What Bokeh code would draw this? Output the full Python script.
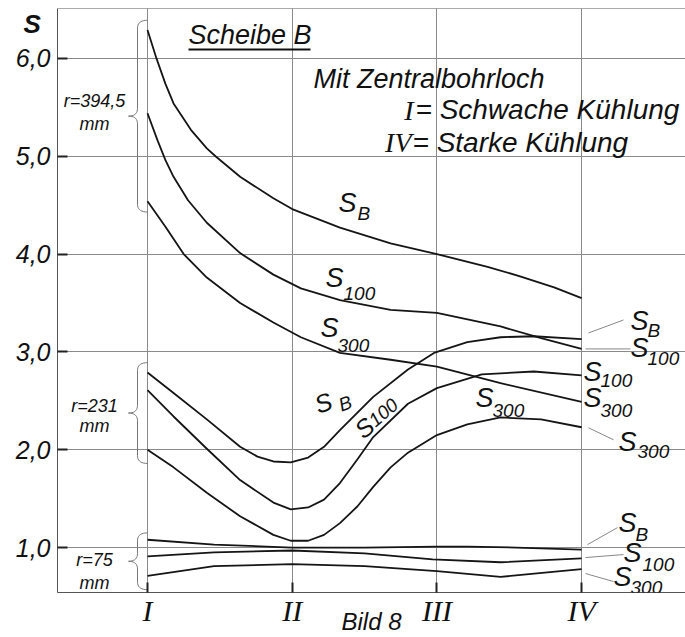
import math
import numpy as np
from bokeh.plotting import figure
from bokeh.models import Range1d, FixedTicker, Label, Span
from bokeh.embed import file_html
from bokeh.resources import INLINE

# ---- data -----------------------------------------------------------
stufen_pos = [1, 2, 3, 4]
stufen_lbl = ["I", "II", "III", "IV"]
s_ticks = [1, 2, 3, 4, 5, 6]
s_tick_lbl = ["1,0", "2,0", "3,0", "4,0", "5,0", "6,0"]
y_title = "S"
x_caption = "Bild 8"

# r = 394,5 mm
x_b_394 = [1.0, 1.062, 1.124, 1.18, 1.30, 1.41, 1.47, 1.64, 1.87, 2.0, 2.33, 2.68, 3.0, 3.35, 3.58, 3.81, 4.0]
s_b_394 = [6.29, 6.00, 5.74, 5.54, 5.27, 5.08, 5.00, 4.79, 4.57, 4.46, 4.27, 4.11, 4.00, 3.87, 3.77, 3.66, 3.55]
x_100_394 = [1.0, 1.07, 1.124, 1.18, 1.28, 1.41, 1.64, 1.87, 2.06, 2.33, 2.68, 3.0, 3.44, 3.72, 4.0]
s_100_394 = [5.44, 5.16, 4.96, 4.79, 4.55, 4.32, 4.01, 3.79, 3.65, 3.53, 3.43, 3.40, 3.26, 3.14, 3.03]
x_300_394 = [1.0, 1.124, 1.25, 1.41, 1.64, 1.87, 2.06, 2.33, 2.68, 3.0, 3.44, 4.0]
s_300_394 = [4.54, 4.28, 4.00, 3.76, 3.50, 3.30, 3.15, 2.99, 2.92, 2.85, 2.68, 2.49]

# r = 231 mm
x_b_231 = [1.0, 1.18, 1.41, 1.64, 1.76, 1.87, 1.99, 2.11, 2.22, 2.33, 2.56, 2.8, 2.98, 3.21, 3.44, 3.67, 4.0]
s_b_231 = [2.79, 2.58, 2.31, 2.03, 1.93, 1.88, 1.87, 1.92, 2.03, 2.20, 2.54, 2.82, 2.99, 3.10, 3.15, 3.16, 3.13]
x_100_231 = [1.0, 1.18, 1.41, 1.64, 1.87, 1.99, 2.11, 2.22, 2.33, 2.45, 2.56, 2.8, 3.0, 3.31, 3.67, 4.0]
s_100_231 = [2.61, 2.34, 2.01, 1.69, 1.46, 1.39, 1.41, 1.49, 1.66, 1.90, 2.13, 2.47, 2.63, 2.77, 2.80, 2.76]
x_300_231 = [1.0, 1.18, 1.41, 1.64, 1.87, 1.99, 2.11, 2.22, 2.33, 2.45, 2.56, 2.68, 2.8, 3.0, 3.21, 3.44, 3.72, 4.0]
s_300_231 = [2.00, 1.82, 1.56, 1.32, 1.13, 1.07, 1.07, 1.13, 1.25, 1.42, 1.62, 1.82, 1.97, 2.15, 2.26, 2.33, 2.31, 2.23]

# r = 75 mm
x_b_75 = [1.0, 1.46, 2.0, 2.5, 3.0, 3.21, 3.55, 4.0]
s_b_75 = [1.08, 1.03, 1.00, 1.00, 1.01, 1.01, 1.00, 0.98]
x_100_75 = [1.0, 1.46, 2.0, 2.5, 2.97, 3.44, 4.0]
s_100_75 = [0.91, 0.95, 0.97, 0.94, 0.88, 0.85, 0.89]
x_300_75 = [1.0, 1.46, 2.0, 2.5, 3.0, 3.44, 4.0]
s_300_75 = [0.71, 0.81, 0.83, 0.81, 0.76, 0.70, 0.78]

# brace ranges (S) per radius group
brace_r = [("r=394,5", 6.39, 4.43), ("r=231", 2.89, 1.86), ("r=75", 1.15, 0.57)]

# ---- layout helpers (pixel -> data, for annotation placement) ------
def X(px):
    return 1 + (px - 147) / 144.7

def Y(py):
    return (646 - py) / 98.0

y_top = Y(8)
p = figure(width=685, height=637,
           x_range=Range1d(X(57), X(685)), y_range=Range1d(Y(593), y_top),
           output_backend="svg", toolbar_location=None,
           min_border_left=57, min_border_right=0, min_border_top=8, min_border_bottom=44)
p.outline_line_color = None
p.background_fill_color = "white"
p.border_fill_color = "white"

p.xaxis.ticker = FixedTicker(ticks=stufen_pos)
p.xaxis.major_label_overrides = {k: v for k, v in zip(stufen_pos, stufen_lbl)}
p.yaxis.ticker = FixedTicker(ticks=s_ticks)
p.yaxis.major_label_overrides = {k: v for k, v in zip(s_ticks, s_tick_lbl)}
p.xgrid.ticker = FixedTicker(ticks=stufen_pos)
p.ygrid.ticker = FixedTicker(ticks=s_ticks)
for g in (p.xgrid[0], p.ygrid[0]):
    g.grid_line_color = "#8a8a8a"
    g.grid_line_width = 1

for ax in (p.xaxis[0], p.yaxis[0]):
    ax.axis_line_color = "#555555"
    ax.axis_line_width = 1
    ax.major_tick_in = 10
    ax.major_tick_out = 0
    ax.major_tick_line_width = 2
    ax.major_tick_line_color = "#222222"
    ax.minor_tick_line_color = None
    ax.major_label_text_color = "#111111"

p.yaxis.major_label_text_font = "Liberation Sans"
p.yaxis.major_label_text_font_style = "italic"
p.yaxis.major_label_text_font_size = "25px"
p.yaxis.major_label_standoff = 7

p.xaxis.major_label_text_font = "Liberation Serif"
p.xaxis.major_label_text_font_style = "italic"
p.xaxis.major_label_text_font_size = "30px"
p.xaxis.major_label_standoff = 1
p.xaxis.axis_label = x_caption
p.xaxis.axis_label_text_font = "Liberation Sans"
p.xaxis.axis_label_text_font_style = "italic"
p.xaxis.axis_label_text_font_size = "24px"
p.xaxis.axis_label_text_color = "#111111"
p.xaxis.axis_label_standoff = -22

yax = p.yaxis[0]
if "axis_label_align" in yax.properties():
    yax.axis_label = "\n" + y_title
    yax.axis_label_orientation = "horizontal"
    yax.axis_label_align = "end"
    yax.axis_label_standoff = -28
    yax.axis_label_text_font = "Liberation Sans"
    yax.axis_label_text_font_style = "bold italic"
    yax.axis_label_text_font_size = "26px"
    yax.axis_label_text_line_height = 1.0
    yax.axis_label_text_color = "#111111"
else:
    p.add_layout(Label(x=X(27), y=Y(22), text=y_title, text_font="Liberation Sans",
                       text_font_style="bold italic", text_font_size="26px",
                       text_baseline="middle", level="overlay", text_color="#111111"))

p.add_layout(Span(location=y_top, dimension="width", line_color="#555555", line_width=1))

# ---- curves ---------------------------------------------------------
series = [(x_b_394, s_b_394), (x_100_394, s_100_394), (x_300_394, s_300_394),
          (x_b_231, s_b_231), (x_100_231, s_100_231), (x_300_231, s_300_231),
          (x_b_75, s_b_75), (x_100_75, s_100_75), (x_300_75, s_300_75)]
for xs, ys in series:
    p.line(xs, ys, line_color="#151515", line_width=1.8, line_join="round")

# ---- braces ---------------------------------------------------------
def brace_path(y0, y1, x_end=1.0, x_v=X(137), x_tip=X(128), r=0.08):
    ym = (y0 + y1) / 2
    t = np.linspace(0, 1, 10)
    def qb(a, c, b):
        return ((1 - t) ** 2 * a[0] + 2 * (1 - t) * t * c[0] + t ** 2 * b[0],
                (1 - t) ** 2 * a[1] + 2 * (1 - t) * t * c[1] + t ** 2 * b[1])
    parts = [qb((x_end, y0), (x_v, y0), (x_v, y0 - r)),
             qb((x_v, ym + r), (x_v, ym), (x_tip, ym)),
             qb((x_tip, ym), (x_v, ym), (x_v, ym - r)),
             qb((x_v, y1 + r), (x_v, y1), (x_end, y1))]
    xs = np.concatenate([pp[0] for pp in parts])
    ys = np.concatenate([pp[1] for pp in parts])
    return xs, ys

for name, yt, yb in brace_r:
    bx, by = brace_path(yt, yb)
    p.line(bx, by, line_color="#777777", line_width=1)

def txt(s, px, py, size=27, font="Liberation Sans", style="italic", align="left", angle=0.0):
    # (px, py): left/right end of the text baseline, in reference pixels
    h = 0.35 * size
    cx = px - h * math.sin(angle)
    cy = py - h * math.cos(angle)
    p.add_layout(Label(x=X(cx), y=Y(cy), text=s, text_font=font, text_font_style=style,
                       text_font_size=f"{size}px", text_align=align,
                       text_baseline="middle", angle=angle, text_color="#111111"))

# brace labels
for (name, yt, yb), (py1, py2) in zip(brace_r, [(107, 130), (412, 433), (567, 590)]):
    txt(name, 94, py1, size=18, align="center")
    txt("mm", 94, py2, size=18, align="center")

# header texts
txt("Scheibe B", 188, 44, size=27)
p.segment(x0=[X(188)], y0=[Y(49)], x1=[X(310)], y1=[Y(49)], line_color="#111111", line_width=2)
txt("Mit Zentralbohrloch", 313, 88, size=27)
txt("I", 413, 120, size=28, font="Liberation Serif", align="right")
txt("= Schwache Kühlung", 415, 119, size=28)
txt("IV", 411, 152, size=28, font="Liberation Serif", align="right")
txt("= Starke Kühlung", 412, 152, size=28)

# curve labels
def slab(sub, px, py, spx, spy, size=27, subsize=19, angle=0.0):
    txt("S", px, py, size=size, angle=angle)
    txt(sub, spx, spy, size=subsize, angle=angle)

slab("B", 338, 212, 357, 220)
slab("100", 325, 287, 343, 300)
slab("300", 320, 337, 337, 352)
slab("B", 318, 414, 341, 412, size=25, angle=0.35)
slab("100", 363, 440, 375, 428, size=25, angle=0.7)
slab("300", 475, 408, 492, 417)
slab("B", 630, 330, 647, 337)
slab("100", 630, 358, 647, 365)
slab("100", 583, 382, 600, 387)
slab("300", 583, 408, 600, 417)
slab("300", 618, 452, 637, 458)
slab("B", 618, 533, 635, 542)
slab("100", 623, 563, 642, 572)
slab("300", 613, 587, 630, 595)

# leader lines
lead = [(588, 333, 623, 320), (585, 349, 630, 349), (588, 428, 613, 440),
        (587, 545, 617, 528), (585, 558, 623, 555), (585, 574, 613, 582)]
p.segment(x0=[X(a) for a, b, c, d in lead], y0=[Y(b) for a, b, c, d in lead],
          x1=[X(c) for a, b, c, d in lead], y1=[Y(d) for a, b, c, d in lead],
          line_color="#888888", line_width=1)

open("out.html", "w").write(file_html(p, INLINE))
